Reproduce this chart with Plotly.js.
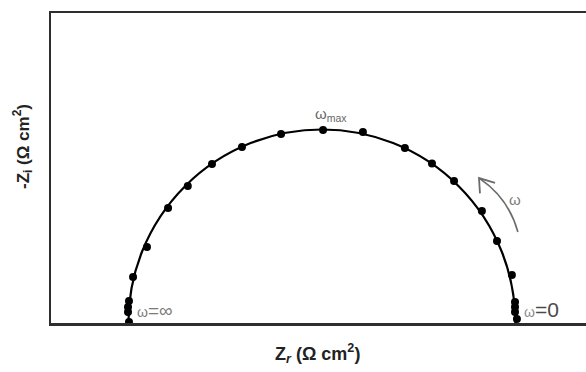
<!DOCTYPE html>
<html>
<head>
<meta charset="utf-8">
<script src="https://cdn.plot.ly/plotly-3.0.1.min.js"></script>
<style>html,body{margin:0;padding:0;background:#fff;}#chart{width:586px;height:372px;}</style>
</head>
<body>
<div id="chart"></div>
<script>
// Impedance points (Z_r, -Z_i in Ω cm²)
const zReal = [40.3, 39.8, 39.8, 40.3, 42.4, 49.6, 60.5, 70.7, 83.2, 98.7, 118.9, 140.6, 161.2, 182.9, 196.9, 208.3, 222.7, 230.5, 238.2, 239.8, 239.8, 239.8, 240.8];
const zImag = [0.5, 5.7, 8.3, 11.4, 23.8, 39.3, 59.4, 70.8, 82.2, 91.0, 97.7, 99.7, 98.7, 90.4, 82.4, 73.4, 57.9, 42.4, 24.8, 10.9, 8.3, 5.7, 2.1];
// Fitted semicircle: series resistance and charge-transfer resistance
const rSeries = [40];
const rChargeTransfer = [200];
// Text labels
const xTitle = 'Z<sub><i>r</i></sub> (Ω cm<sup>2</sup>)';
const yTitle = '-Z<sub>i</sub> (Ω cm<sup>2</sup>)';

const trace = {
  x: zReal, y: zImag, type: 'scatter', mode: 'markers',
  marker: {color: '#000', size: 8}, hoverinfo: 'skip', cliponaxis: false
};

const rs = rSeries[0], rct = rChargeTransfer[0];
const layout = {
  width: 586, height: 372,
  margin: {l: 51, r: 0, t: 13, b: 49, pad: 0},
  paper_bgcolor: '#fff', plot_bgcolor: '#fff',
  showlegend: false,
  font: {family: 'Liberation Sans, Arial, sans-serif', color: '#222'},
  xaxis: {range: [0, 276.5], showgrid: false, zeroline: false, showticklabels: false, ticks: '',
          showline: true, linecolor: '#2e2e2e', linewidth: 2.5, mirror: true, fixedrange: true},
  yaxis: {range: [0, 160.2], showgrid: false, zeroline: false, showticklabels: false, ticks: '',
          showline: true, linecolor: '#2e2e2e', linewidth: 2.5, mirror: false, fixedrange: true},
  shapes: [
    {type: 'circle', xref: 'x', yref: 'y', x0: rs, x1: rs + rct, y0: -rct / 2, y1: rct / 2,
     line: {color: '#000', width: 2.2}, layer: 'below'},
    {type: 'path', xref: 'x', yref: 'y',
     path: 'M 241.3 47.0 Q 236.5 64.5 221.6 74.6',
     line: {color: '#6b6b6b', width: 1.6}},
    {type: 'path', xref: 'x', yref: 'y',
     path: 'M 221.7 67.0 L 221.2 74.9 L 229.5 72.4',
     line: {color: '#6b6b6b', width: 1.8}}
  ],
  annotations: [
    {xref: 'paper', yref: 'paper', x: -0.08, y: 0.57, text: yTitle, textangle: -90, showarrow: false,
     font: {size: 17, color: '#222', weight: 'bold'}},
    {xref: 'paper', yref: 'paper', x: 0.499, y: -0.145, text: xTitle, showarrow: false,
     font: {size: 18, color: '#222', weight: 'bold'}},
    {xref: 'x', yref: 'y', x: 43.4, y: 6.7, xanchor: 'left', text: '<span style="font-size:14px">ω</span>=∞',
     showarrow: false, font: {size: 19, color: '#7a7a7a'}},
    {xref: 'x', yref: 'y', x: 243.4, y: 7.2, xanchor: 'left',
     text: '<span style="font-size:14px;color:#8a8a8a">ω</span>=0',
     showarrow: false, font: {size: 21, color: '#4a4a4a'}},
    {xref: 'x', yref: 'y', x: 144.5, y: 107.5, text: 'ω<sub>max</sub>',
     showarrow: false, font: {size: 15, color: '#666'}},
    {xref: 'x', yref: 'y', x: 239.8, y: 63.8, text: 'ω',
     showarrow: false, font: {size: 15, color: '#7a7a7a'}}
  ]
};

Plotly.newPlot('chart', [trace], layout, {staticPlot: true, displayModeBar: false});
</script>
</body>
</html>
